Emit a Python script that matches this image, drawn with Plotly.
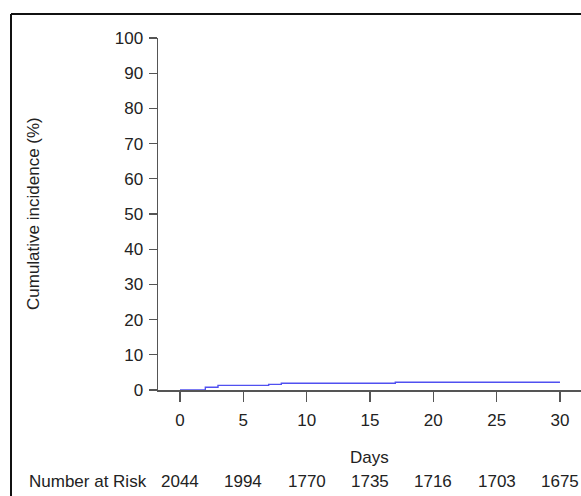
import plotly.graph_objects as go

# Data
days = [0, 2, 3, 7, 8, 17, 30]
cum_incidence = [0, 0.8, 1.3, 1.6, 1.9, 2.2, 2.2]
risk_days = [0, 5, 10, 15, 20, 25, 30]
number_at_risk = [2044, 1994, 1770, 1735, 1716, 1703, 1675]
y_ticks = [0, 10, 20, 30, 40, 50, 60, 70, 80, 90, 100]
x_ticks = [0, 5, 10, 15, 20, 25, 30]

FONT = "Liberation Sans, Arial, sans-serif"
TXT = "#222222"
AX = "#555555"

W, H = 581, 496

# plot area in window pixels
L, R, T, B = 158, 581, 38, 390
ml, mr, mt, mb = L, W - R, T, H - B
pw = R - L
ph = B - T

fig = go.Figure()
fig.add_trace(go.Scatter(
    x=days, y=cum_incidence, mode="lines", line_shape="hv",
    line=dict(color="#5050f0", width=1.4), showlegend=False, hoverinfo="skip"))

fig.update_layout(
    width=W, height=H,
    margin=dict(l=ml, r=mr, t=mt, b=mb, pad=0),
    paper_bgcolor="white", plot_bgcolor="white",
    font=dict(family=FONT, size=17, color=TXT),
    xaxis=dict(range=[-1.737, 31.66], tickmode="array", tickvals=x_ticks,
               ticks="outside", ticklen=10, tickwidth=1.3, tickcolor=AX,
               ticklabelstandoff=4,
               showline=True, linecolor=AX, linewidth=1.5, showgrid=False,
               zeroline=False, tickfont=dict(size=17, color=TXT, family=FONT)),
    yaxis=dict(range=[0, 100], tickmode="array", tickvals=y_ticks,
               ticks="outside", ticklen=8, tickwidth=1.3, tickcolor=AX,
               ticklabelstandoff=2,
               showline=True, linecolor=AX, linewidth=1.5, showgrid=False,
               zeroline=False, tickfont=dict(size=17, color=TXT, family=FONT)),
)

def py(pix):
    return (B - pix) / ph

def px(pix):
    return (pix - L) / pw

annotations = [
    dict(text="Cumulative incidence (%)", textangle=-90, x=px(33), y=py(214),
         xref="paper", yref="paper", showarrow=False, xanchor="center",
         yanchor="middle", font=dict(size=17, color=TXT)),
    dict(text="Days", x=15, y=py(457), xref="x", yref="paper", showarrow=False,
         xanchor="center", yanchor="middle", font=dict(size=17, color=TXT)),
    dict(text="Number at Risk", x=px(149), y=py(482), xref="paper", yref="paper",
         showarrow=False, xanchor="right", yanchor="middle",
         font=dict(size=17, color=TXT)),
]
for d, n in zip(risk_days, number_at_risk):
    annotations.append(dict(text=str(n), x=d, y=py(482), xref="x", yref="paper",
                            showarrow=False, xanchor="center", yanchor="middle",
                            font=dict(size=17, color=TXT)))
fig.update_layout(annotations=annotations)

# outer frame (left and top edges visible)
fig.add_shape(type="line", xref="paper", yref="paper", x0=px(11), x1=px(11),
              y0=py(14), y1=py(500), line=dict(color="#111111", width=2))
fig.add_shape(type="line", xref="paper", yref="paper", x0=px(11), x1=px(590),
              y0=py(14), y1=py(14), line=dict(color="#111111", width=2))

fig.write_html(
    "out.html",
    config={"displayModeBar": False, "staticPlot": True},
    post_script="document.body.style.margin='0';document.body.style.overflow='hidden';"
                "document.documentElement.style.overflow='hidden';",
)
